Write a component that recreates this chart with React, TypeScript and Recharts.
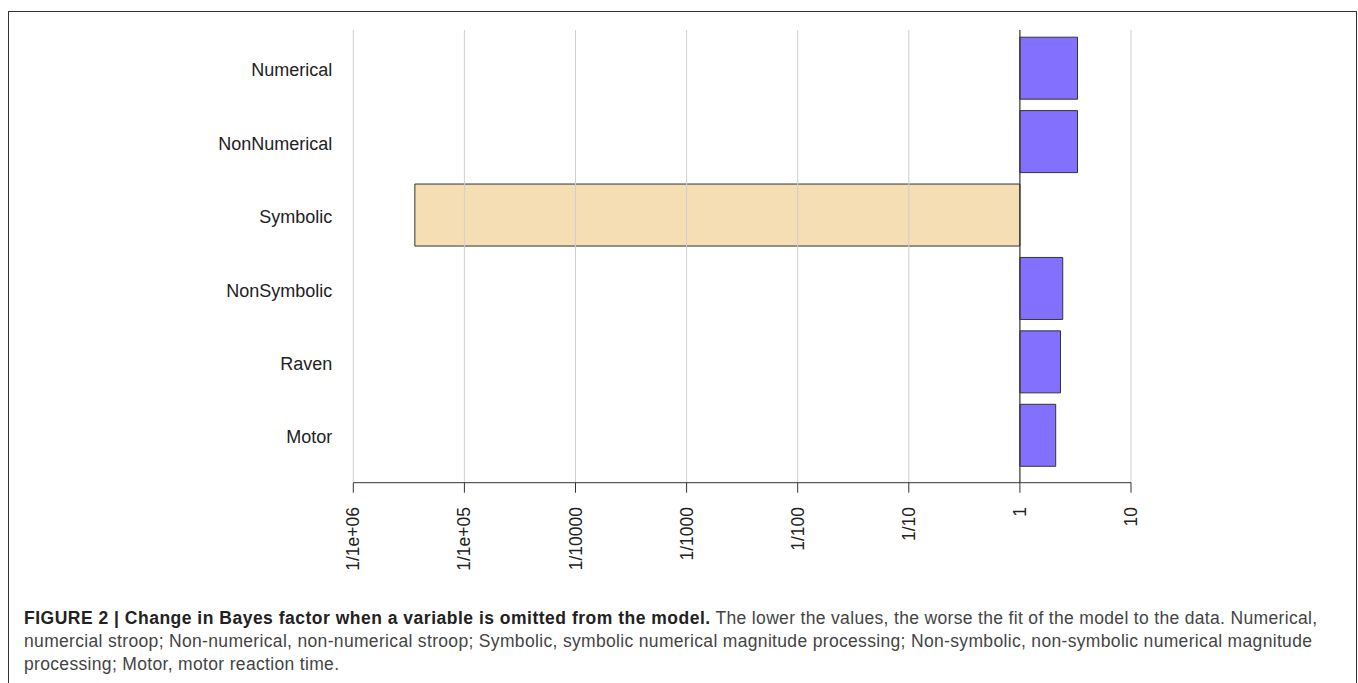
import React from 'react';
import { BarChart, Bar, XAxis, YAxis, ReferenceLine, Cell } from 'recharts';

const categories = ['Numerical', 'NonNumerical', 'Symbolic', 'NonSymbolic', 'Raven', 'Motor'];
const bayesFactors = [3.3, 3.3, 3.58e-6, 2.43, 2.32, 2.1];
const barColors = ['#8470FF', '#8470FF', '#F5DEB3', '#8470FF', '#8470FF', '#8470FF'];
const tickValues = [1e-6, 1e-5, 1e-4, 1e-3, 1e-2, 1e-1, 1, 10];
const tickLabels = ['1/1e+06', '1/1e+05', '1/10000', '1/1000', '1/100', '1/10', '1', '10'];

const captionLines = [
  {
    bold: 'FIGURE 2 | Change in Bayes factor when a variable is omitted from the model.',
    rest: ' The lower the values, the worse the fit of the model to the data. Numerical,',
  },
  {
    bold: '',
    rest: 'numercial stroop; Non-numerical, non-numerical stroop; Symbolic, symbolic numerical magnitude processing; Non-symbolic, non-symbolic numerical magnitude',
  },
  { bold: '', rest: 'processing; Motor, motor reaction time.' },
];

const data = categories.map((name, i) => ({
  name,
  range: [Math.min(1, bayesFactors[i]), Math.max(1, bayesFactors[i])],
}));

const FONT = '"Liberation Sans", Arial, Helvetica, sans-serif';

const XTick = (props: any) => {
  const { x, payload } = props;
  const idx = tickValues.indexOf(payload.value);
  const label = idx >= 0 ? tickLabels[idx] : String(payload.value);
  const bx = x + 6;
  const by = 507;
  return (
    <text
      x={bx}
      y={by}
      transform={`rotate(-90 ${bx} ${by})`}
      textAnchor="end"
      fontSize={17.5}
      fontFamily={FONT}
      fill="#222"
    >
      {label}
    </text>
  );
};

const YTick = (props: any) => {
  const { x, y, payload } = props;
  return (
    <text x={x} y={y + 2} dy="0.355em" textAnchor="end" fontSize={18} fontFamily={FONT} fill="#222">
      {payload.value}
    </text>
  );
};

export default function App() {
  return (
    <div>
      <div
        style={{
          position: 'absolute',
          left: 8,
          top: 11,
          width: 1349,
          height: 720,
          boxSizing: 'border-box',
          border: '1px solid #333',
        }}
      />
      <div style={{ position: 'absolute', left: 0, top: 0 }}>
        <BarChart
          layout="vertical"
          width={1358}
          height={600}
          data={data}
          margin={{ top: 30, right: 227, bottom: 0, left: 0 }}
        >
          <XAxis
            type="number"
            scale="log"
            domain={[1e-6, 10]}
            ticks={tickValues}
            allowDataOverflow
            height={117.3}
            axisLine={{ stroke: '#333', strokeWidth: 1 }}
            tickLine={{ stroke: '#333', strokeWidth: 1 }}
            tickSize={10}
            tick={<XTick />}
            interval={0}
          />
          <YAxis
            type="category"
            dataKey="name"
            width={353.3}
            axisLine={false}
            tickLine={false}
            tickSize={0}
            tickMargin={21}
            padding={{ top: 1.2, bottom: 11 }}
            tick={<YTick />}
          />
          <Bar dataKey="range" barSize={62} stroke="#333" strokeWidth={1} isAnimationActive={false}>
            {data.map((d, i) => (
              <Cell key={d.name} fill={barColors[i]} />
            ))}
          </Bar>
          {tickValues
            .filter((v) => v !== 1)
            .map((v) => (
              <ReferenceLine key={v} x={v} stroke="#cfcfcf" strokeWidth={1} />
            ))}
          <ReferenceLine x={1} stroke="#333" strokeWidth={1.2} />
        </BarChart>
      </div>
      <div
        style={{
          position: 'absolute',
          left: 24,
          top: 607,
          fontFamily: FONT,
          fontSize: 17.5,
          lineHeight: '23px',
          letterSpacing: '0.33px',
          color: '#444',
        }}
      >
        {captionLines.map((l, i) => (
          <div key={i} style={{ whiteSpace: 'nowrap' }}>
            {l.bold ? <b style={{ color: '#222', letterSpacing: '0.5px' }}>{l.bold}</b> : null}
            {l.rest}
          </div>
        ))}
      </div>
    </div>
  );
}
